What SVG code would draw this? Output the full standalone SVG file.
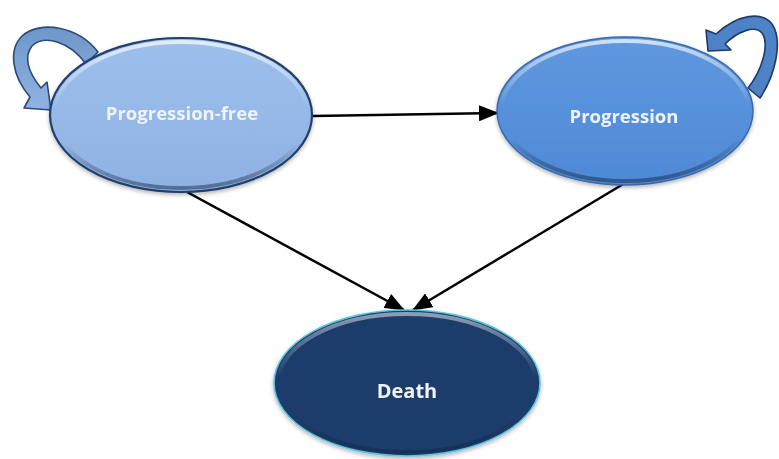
<svg xmlns="http://www.w3.org/2000/svg" width="779" height="459" viewBox="0 0 779 459">
  <defs>
    <style>
      .label { font-family: "Open Sans", "Liberation Sans", sans-serif; font-weight: bold; fill: #eef3fa; text-anchor: middle; }
      .edge { stroke: #000; stroke-width: 2.5; fill: none; }
      .loop { stroke-width: 1.6; stroke-linejoin: round; }
    </style>
    <marker id="head" viewBox="0 0 20 16" refX="19" refY="8" markerWidth="20" markerHeight="16" markerUnits="userSpaceOnUse" orient="auto">
      <path d="M0,0 L20,8 L0,16 Z" fill="#000"/>
    </marker>
    <!-- bevel rims: light along the top, darker along the bottom -->
    <linearGradient id="rimLight" x1="0" y1="0" x2="0" y2="1">
      <stop offset="0" stop-color="#ffffff" stop-opacity="0.7"/>
      <stop offset="0.45" stop-color="#ffffff" stop-opacity="0"/>
      <stop offset="0.7" stop-color="#000000" stop-opacity="0"/>
      <stop offset="1" stop-color="#0a1a33" stop-opacity="0.45"/>
    </linearGradient>
    <linearGradient id="pfFill" x1="0" y1="0" x2="0" y2="1">
      <stop offset="0" stop-color="#9dbfec"/>
      <stop offset="1" stop-color="#8fb2e4"/>
    </linearGradient>
    <linearGradient id="prFill" x1="0" y1="0" x2="0" y2="1">
      <stop offset="0" stop-color="#5f98e0"/>
      <stop offset="1" stop-color="#4f89d6"/>
    </linearGradient>
    <linearGradient id="loopA" x1="0" y1="0" x2="0" y2="1">
      <stop offset="0" stop-color="#6f96c8"/>
      <stop offset="1" stop-color="#8fb4e4"/>
    </linearGradient>
    <filter id="soft" x="-10%" y="-10%" width="120%" height="130%">
      <feGaussianBlur in="SourceAlpha" stdDeviation="2"/>
      <feOffset dy="2"/>
      <feComponentTransfer><feFuncA type="linear" slope="0.3"/></feComponentTransfer>
      <feMerge><feMergeNode/><feMergeNode in="SourceGraphic"/></feMerge>
    </filter>
  </defs>

  <rect width="779" height="459" fill="#ffffff"/>

  <g id="connectors">
    <line class="edge" x1="313" y1="116" x2="498" y2="113" marker-end="url(#head)"/>
    <line class="edge" x1="187" y1="192" x2="404" y2="310" marker-end="url(#head)"/>
    <line class="edge" x1="625" y1="183" x2="413" y2="310" marker-end="url(#head)"/>
  </g>

  <g id="loop-progression-free">
    <path class="loop" fill="url(#loopA)" stroke="#2b4a78"
          d="M98,52 C78,26 40,20 22,36 C8,50 12,76 30,97 L24,108 L51,110 L47,82 L41,88 C27,71 24,56 32,46 C45,34 70,42 86,64 Z"/>
  </g>

  <g id="loop-progression">
    <path class="loop" fill="#4e82c6" stroke="#1f3a66"
          d="M760,98 C776,74 783,40 772,24 C762,11 738,14 716,34 L706,30 L708,51 L731,50 L725,44 C738,31 755,25 762,33 C770,44 762,70 748,88 Z"/>
  </g>

  <g id="node-progression-free" filter="url(#soft)">
    <ellipse cx="181" cy="115" rx="131" ry="77" fill="url(#pfFill)" stroke="#22406e" stroke-width="2.2"/>
    <ellipse cx="181" cy="115" rx="127" ry="73" fill="none" stroke="url(#rimLight)" stroke-width="4"/>
    <text class="label" x="182" y="120" font-size="18.5">Progression-free</text>
  </g>

  <g id="node-progression" filter="url(#soft)">
    <ellipse cx="625" cy="111" rx="128" ry="74" fill="url(#prFill)" stroke="#3a6aaa" stroke-width="1.5"/>
    <ellipse cx="625" cy="111" rx="124" ry="70" fill="none" stroke="url(#rimLight)" stroke-width="4"/>
    <text class="label" x="624" y="123" font-size="18.5">Progression</text>
  </g>

  <g id="node-death" filter="url(#soft)">
    <ellipse cx="407" cy="383" rx="133" ry="73" fill="#1e3e6c" stroke="#5cc3e0" stroke-width="1.6"/>
    <ellipse cx="407" cy="383" rx="129" ry="69" fill="none" stroke="url(#rimLight)" stroke-width="4" opacity="0.7"/>
    <text class="label" x="407" y="398" font-size="20">Death</text>
  </g>
</svg>
